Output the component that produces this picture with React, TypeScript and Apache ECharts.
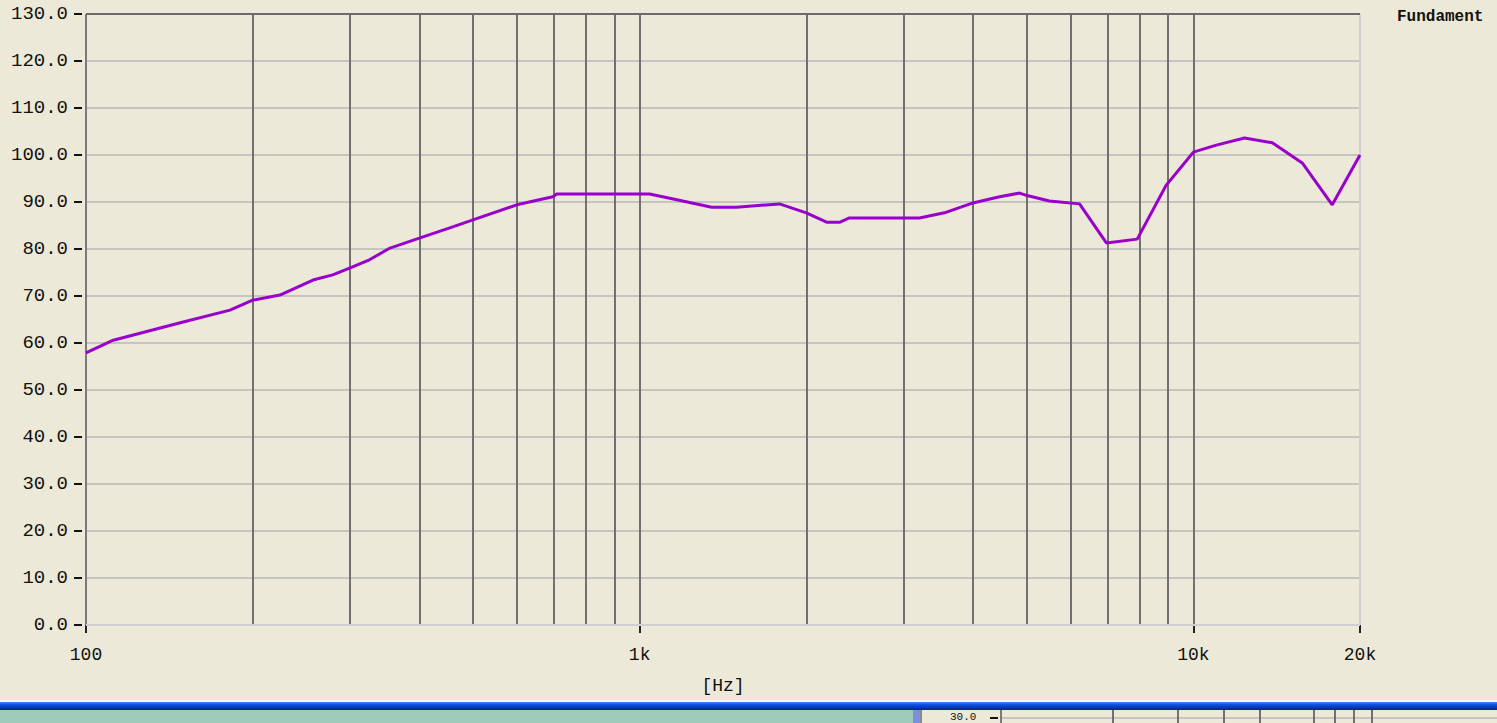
import React, { useEffect, useRef } from 'react';
import * as echarts from 'echarts';

const freqHz = [100, 112, 148, 182, 200, 224, 257, 279, 300, 325, 354, 400, 454, 500, 600, 697, 708, 1042, 1122, 1196, 1349, 1496, 1789, 2000, 2176, 2301, 2393, 3202, 3552, 4000, 4467, 4853, 4966, 5497, 6229, 6965, 7918, 8937, 10000, 11003, 12370, 13890, 15730, 17820, 20000];
const levelDb = [57.9, 60.6, 64.3, 67.0, 69.1, 70.2, 73.4, 74.5, 76.0, 77.7, 80.2, 82.3, 84.5, 86.2, 89.4, 91.1, 91.7, 91.7, 90.9, 90.2, 88.9, 88.9, 89.6, 87.7, 85.7, 85.7, 86.6, 86.6, 87.7, 89.8, 91.1, 91.9, 91.5, 90.2, 89.6, 81.3, 82.1, 93.6, 100.6, 102.1, 103.6, 102.6, 98.3, 89.4, 100.0];
const gridFreqs = [200, 300, 400, 500, 600, 700, 800, 900, 1000, 2000, 3000, 4000, 5000, 6000, 7000, 8000, 9000, 10000];
const seriesName = 'Fundament';
const xName = '[Hz]';

const MONO = 'Liberation Mono';

export default function App() {
  const ref = useRef<HTMLDivElement>(null);
  useEffect(() => {
    document.body.style.margin = '0';
    const chart = echarts.init(ref.current!, null, { renderer: 'svg' });
    const darkGrid = { color: '#707070', width: 2, type: 'solid' };
    const lightGrid = { color: '#cfcfd4', width: 2, type: 'solid' };
    chart.setOption({
      animation: false,
      backgroundColor: '#ECE9D8',
      grid: { left: 86, right: 137, top: 14, bottom: 98 },
      xAxis: {
        type: 'log',
        logBase: 10,
        min: 100,
        max: 20000,
        offset: 5,
        name: xName,
        nameLocation: 'middle',
        nameGap: 47,
        nameTextStyle: { fontFamily: MONO, fontSize: 18, color: '#111', verticalAlign: 'top' },
        axisLine: { show: false },
        axisTick: { show: true, length: 8, lineStyle: { color: '#222', width: 2 } },
        axisLabel: {
          fontFamily: MONO,
          fontSize: 18,
          color: '#111',
          margin: 16,
          formatter: (v: number) => {
            const r = Math.round(v);
            return r >= 1000 ? Math.round(r / 1000) + 'k' : String(r);
          },
        },
        splitLine: { show: false },
        minorTick: { show: false },
        minorSplitLine: { show: false },
      },
      yAxis: {
        type: 'value',
        min: 0,
        max: 130,
        interval: 10,
        offset: 4,
        axisLine: { show: false },
        axisTick: { show: true, length: 8, lineStyle: { color: '#111', width: 2 } },
        axisLabel: {
          fontFamily: MONO,
          fontSize: 19,
          color: '#111',
          margin: 14,
          formatter: (v: number) => v.toFixed(1),
        },
        splitLine: { show: true, lineStyle: { color: '#c4c4c2', width: 2 } },
      },
      series: [
        {
          name: seriesName,
          type: 'line',
          data: freqHz.map((f, i) => [f, levelDb[i]]),
          symbol: 'none',
          z: 10,
          lineStyle: { color: '#9900CC', width: 3 },
          markLine: {
            silent: true,
            z: 1,
            symbol: ['none', 'none'],
            label: { show: false },
            animation: false,
            data: [
              ...gridFreqs.map((f) => ({ xAxis: f, lineStyle: darkGrid })),
              { xAxis: 100, lineStyle: { color: '#7a7a7a', width: 2, type: 'solid' } },
              { xAxis: 20000, lineStyle: lightGrid },
              { yAxis: 130, lineStyle: { color: '#6a6a6a', width: 2, type: 'solid' } },
              { yAxis: 0, lineStyle: lightGrid },
            ],
          },
        },
      ],
      graphic: [
        {
          type: 'text',
          x: 1397,
          y: 9,
          style: { text: seriesName, font: `bold 16px "${MONO}"`, fill: '#111' },
        },
        { type: 'rect', shape: { x: 0, y: 700, width: 1497, height: 2 }, style: { fill: '#f6f6f2' } },
        {
          type: 'rect',
          shape: { x: 0, y: 702, width: 1497, height: 8 },
          style: {
            fill: new echarts.graphic.LinearGradient(0, 0, 0, 1, [
              { offset: 0, color: '#4a86ff' },
              { offset: 0.35, color: '#0b4fe2' },
              { offset: 1, color: '#06228f' },
            ]),
          },
        },
        { type: 'rect', shape: { x: 0, y: 710, width: 913, height: 13 }, style: { fill: '#9ecbba' } },
        { type: 'rect', shape: { x: 913, y: 710, width: 7, height: 13 }, style: { fill: '#7b8fe0' } },
        { type: 'rect', shape: { x: 920, y: 710, width: 2, height: 13 }, style: { fill: '#8a8a8a' } },
        { type: 'text', x: 950, y: 711, style: { text: '30.0', font: `11px "${MONO}"`, fill: '#111' } },
        { type: 'line', shape: { x1: 990, y1: 718, x2: 998, y2: 718 }, style: { stroke: '#111', lineWidth: 2 } },
        { type: 'line', shape: { x1: 1002, y1: 718, x2: 1497, y2: 718 }, style: { stroke: '#c4c4c2', lineWidth: 2 } },
        { type: 'line', shape: { x1: 1001, y1: 710, x2: 1001, y2: 723 }, style: { stroke: '#7a7a7a', lineWidth: 2 } },
        ...[1113, 1178, 1224, 1260, 1314, 1335, 1354, 1372].map((x) => ({
          type: 'line',
          shape: { x1: x, y1: 710, x2: x, y2: 723 },
          style: { stroke: '#707070', lineWidth: 2 },
        })),
      ],
    });
    return () => chart.dispose();
  }, []);
  return (
    <div
      ref={ref}
      style={{ position: 'fixed', left: 0, top: 0, width: 1497, height: 723, background: '#ECE9D8' }}
    />
  );
}
